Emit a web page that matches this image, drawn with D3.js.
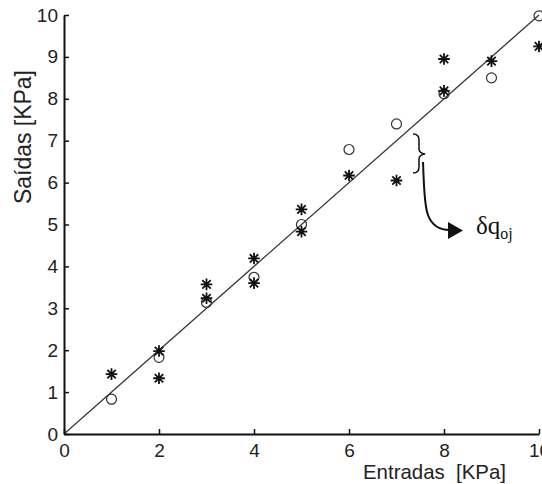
<!DOCTYPE html>
<html>
<head>
<meta charset="utf-8">
<script src="https://cdn.jsdelivr.net/npm/d3@7"></script>
<style>
  body { margin: 0; background: #fff; }
  svg { display: block; }
  .axis text { font-family: "Liberation Sans", Arial, sans-serif; font-size: 19px; fill: #222; }
</style>
</head>
<body>
<div id="chart"></div>
<script>
// measured values (o) and repeated readings (*) per input pressure
const circleX = [1, 2, 3, 4, 5, 6, 7, 8, 9, 10];
const circleY = [0.83, 1.83, 3.14, 3.74, 5.0, 6.79, 7.4, 8.12, 8.5, 9.98];
const starX = [1, 2, 2, 3, 3, 4, 4, 5, 5, 6, 7, 8, 8, 9, 10];
const starY = [1.43, 1.98, 1.33, 3.57, 3.24, 4.19, 3.6, 5.36, 4.83, 6.17, 6.05, 8.95, 8.19, 8.9, 9.25];
const xTicks = [0, 2, 4, 6, 8, 10];
const yTicks = [0, 1, 2, 3, 4, 5, 6, 7, 8, 9, 10];
const idealLine = [0, 10];

const W = 542, H = 484;
const svg = d3.select("#chart").append("svg").attr("width", W).attr("height", H);

const x = d3.scaleLinear().domain([0, 10]).range([64, 539]);
const y = d3.scaleLinear().domain([0, 10]).range([434, 15]);

// ideal line y = x
svg.append("line")
  .attr("x1", x(idealLine[0])).attr("y1", y(idealLine[0]))
  .attr("x2", x(idealLine[1])).attr("y2", y(idealLine[1]))
  .attr("stroke", "#333").attr("stroke-width", 1.2);

// circles
svg.selectAll("circle.pt").data(circleX).enter().append("circle")
  .attr("class", "pt")
  .attr("cx", d => x(d))
  .attr("cy", (d, i) => y(circleY[i]))
  .attr("r", 5)
  .attr("fill", "none").attr("stroke", "#333").attr("stroke-width", 1.2);

// asterisks (plus + cross)
const s = 5.8, t = 4.2;
const star = `M${-s},0L${s},0M0,${-s}L0,${s}M${-t},${-t}L${t},${t}M${-t},${t}L${t},${-t}`;
svg.selectAll("path.star").data(starX).enter().append("path")
  .attr("class", "star")
  .attr("transform", (d, i) => `translate(${x(d)},${y(starY[i])})`)
  .attr("d", star)
  .attr("stroke", "#111").attr("stroke-width", 1.8).attr("fill", "none");

// axes
const gx = svg.append("g").attr("class", "axis").attr("transform", `translate(0,${y(0)})`)
  .call(d3.axisBottom(x).tickValues(xTicks).tickSizeInner(-5).tickSizeOuter(0).tickPadding(10).tickFormat(d3.format("d")));
const gy = svg.append("g").attr("class", "axis").attr("transform", `translate(${x(0)},0)`)
  .call(d3.axisLeft(y).tickValues(yTicks).tickSizeInner(-5).tickSizeOuter(0).tickPadding(6).tickFormat(d3.format("d")));
[gx, gy].forEach(g => {
  g.select(".domain").attr("stroke", "#111").attr("stroke-width", 2);
  g.selectAll(".tick line").attr("stroke", "#111").attr("stroke-width", 1.5);
});

// axis titles
svg.append("text")
  .attr("x", 363).attr("y", 479)
  .attr("font-family", "Liberation Sans, Arial, sans-serif").attr("font-size", 21).attr("fill", "#222")
  .attr("textLength", 143).attr("lengthAdjust", "spacingAndGlyphs")
  .attr("xml:space", "preserve")
  .text("Entradas  [KPa]");

svg.append("text")
  .attr("transform", "translate(31,204) rotate(-90)")
  .attr("font-family", "Liberation Sans, Arial, sans-serif").attr("font-size", 24).attr("fill", "#222")
  .attr("textLength", 134).attr("lengthAdjust", "spacingAndGlyphs")
  .text("Saídas [KPa]");

// annotation: brace, arrow and label
svg.append("path")
  .attr("d", "M413,134 Q419,134 419,140 L419,149 Q419,153 425,154 Q419,155 419,159 L419,167 Q419,173 413,173")
  .attr("fill", "none").attr("stroke", "#111").attr("stroke-width", 1.5);
svg.append("path")
  .attr("d", "M423,162 C424,185 424,205 428,215 C432,226 440,230 450,230")
  .attr("fill", "none").attr("stroke", "#111").attr("stroke-width", 2);
svg.append("path")
  .attr("d", "M448,222 L463,230.5 L448,239 Z")
  .attr("fill", "#111");

const lab = svg.append("text")
  .attr("x", 476).attr("y", 234)
  .attr("font-family", "Liberation Serif, Times New Roman, serif").attr("font-size", 25).attr("fill", "#111");
lab.append("tspan").text("δq");
lab.append("tspan").attr("font-size", 16).attr("dy", 5).text("oj");
</script>
</body>
</html>
